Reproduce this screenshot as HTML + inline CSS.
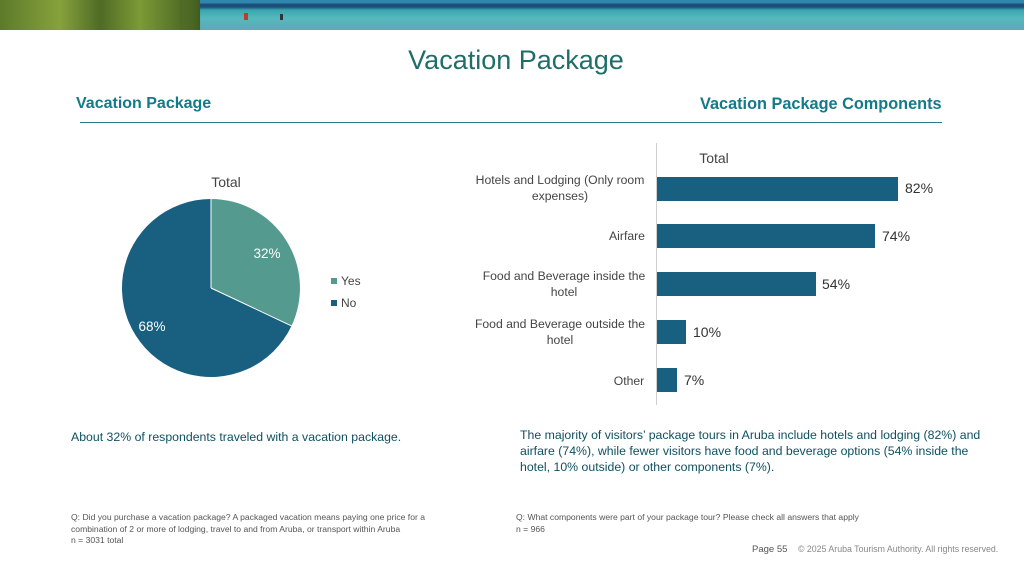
<!DOCTYPE html>
<html><head><style>
body{margin:0;width:1024px;height:576px;background:#fff;position:relative;overflow:hidden;font-family:"Liberation Sans",sans-serif}
.a{position:absolute;white-space:nowrap}
</style></head><body>
<div class="a" style="left:0;top:0;width:1024px;height:30px;background:linear-gradient(180deg,#2f87b0 0,#2f87b0 3px,#1d4f7a 4px,#1d4f7a 7px,#3aa6b0 10px,#55b9bd 18px,#5fa8b4 30px)"></div>
<div class="a" style="left:0;top:0;width:200px;height:30px;background:linear-gradient(90deg,#5d7a2a,#86a23c 30%,#4f6b25 50%,#7c9a36 70%,#3f5a20 100%)"></div>
<div class="a" style="left:180px;top:0;width:22px;height:30px;background:linear-gradient(90deg,#4f6b25,rgba(79,107,37,0))"></div>
<div class="a" style="left:244px;top:13px;width:4px;height:7px;background:#c0392b"></div>
<div class="a" style="left:280px;top:14px;width:3px;height:6px;background:#333"></div>
<div class="a" style="left:0;width:1032px;text-align:center;top:45px;font-size:27px;color:#1f6e6a">Vacation Package</div>
<div class="a" style="left:76px;top:95px;font-size:16px;font-weight:bold;color:#137a8a">Vacation Package</div>
<div class="a" style="left:700px;top:95px;font-size:16.3px;font-weight:bold;color:#137a8a">Vacation Package Components</div>
<div class="a" style="left:80px;top:122px;width:862px;height:1px;background:#2b7a8a"></div>
<svg class="a" style="left:0;top:0" width="1024" height="576">
<text x="226" y="187" font-size="14" fill="#444" text-anchor="middle" font-family="Liberation Sans">Total</text>
<path d="M211,288 L211,199 A89,89 0 0 1 291.5,325.9 Z" fill="#559a8f"/>
<path d="M211,288 L291.5,325.9 A89,89 0 1 1 211,199 Z" fill="#185f80"/>
<line x1="211" y1="288" x2="211" y2="199" stroke="#fff" stroke-width="1"/>
<line x1="211" y1="288" x2="291.5" y2="325.9" stroke="#fff" stroke-width="1"/>
<text x="267" y="258" font-size="13.5" fill="#fff" text-anchor="middle" font-family="Liberation Sans">32%</text>
<text x="152" y="331" font-size="13.5" fill="#fff" text-anchor="middle" font-family="Liberation Sans">68%</text>
<rect x="331" y="278" width="6" height="6" fill="#559a8f"/><text x="341" y="285" font-size="12" fill="#444" font-family="Liberation Sans">Yes</text>
<rect x="331" y="300" width="6" height="6" fill="#185f80"/><text x="341" y="307" font-size="12" fill="#444" font-family="Liberation Sans">No</text>
<text x="714" y="163" font-size="14" fill="#444" text-anchor="middle" font-family="Liberation Sans">Total</text>
<line x1="656.5" y1="143" x2="656.5" y2="405" stroke="#d0d0d0"/>
<g fill="#185f80">
<rect x="657" y="177" width="241" height="24"/>
<rect x="657" y="224" width="218" height="24"/>
<rect x="657" y="272" width="159" height="24"/>
<rect x="657" y="320" width="29" height="24"/>
<rect x="657" y="368" width="20" height="24"/>
</g>
<g font-size="14" fill="#333" font-family="Liberation Sans">
<text x="905" y="193">82%</text><text x="882" y="241">74%</text><text x="822" y="289">54%</text><text x="693" y="337">10%</text><text x="684" y="385">7%</text>
</g>
<g font-size="12.2" fill="#444" text-anchor="middle" font-family="Liberation Sans">
<text x="560" y="184">Hotels and Lodging (Only room</text><text x="560" y="200">expenses)</text>
<text x="627" y="240">Airfare</text>
<text x="564" y="280">Food and Beverage inside the</text><text x="564" y="296">hotel</text>
<text x="560" y="328">Food and Beverage outside the</text><text x="560" y="344">hotel</text>
<text x="629" y="385">Other</text>
</g>
</svg>
<div class="a" style="left:71px;top:430px;font-size:12.3px;color:#0f5060">About 32% of respondents traveled with a vacation package.</div>
<div class="a" style="left:520px;top:427px;font-size:12.3px;line-height:16px;color:#0f5060;white-space:normal;width:470px">The majority of visitors’ package tours in Aruba include hotels and lodging (82%) and airfare (74%), while fewer visitors have food and beverage options (54% inside the hotel, 10% outside) or other components (7%).</div>
<div class="a" style="left:71px;top:512px;font-size:8.6px;line-height:11.5px;color:#555">Q: Did you purchase a vacation package? A packaged vacation means paying one price for a<br>combination of 2 or more of lodging, travel to and from Aruba, or transport within Aruba<br>n = 3031 total</div>
<div class="a" style="left:516px;top:512px;font-size:8.6px;line-height:11.5px;color:#555">Q: What components were part of your package tour? Please check all answers that apply<br>n = 966</div>
<div class="a" style="left:752px;top:544px;font-size:9.5px;color:#555">Page 55 &nbsp;&nbsp; <span style="color:#888;font-size:8.8px">© 2025 Aruba Tourism Authority. All rights reserved.</span></div>
</body></html>
